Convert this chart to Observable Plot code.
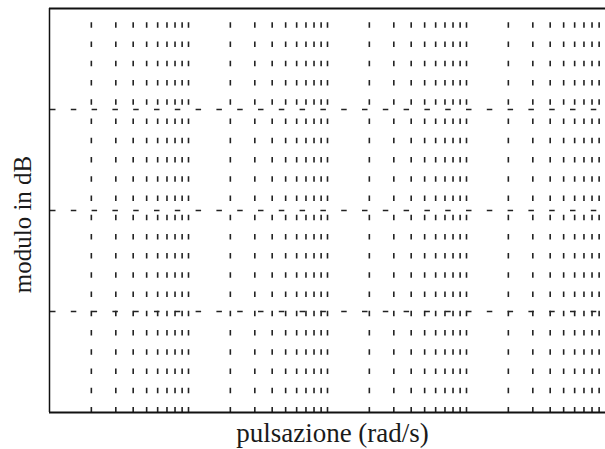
<!DOCTYPE html>
<html>
<head>
<meta charset="utf-8">
<script src="https://cdn.jsdelivr.net/npm/d3@7"></script>
<script src="https://cdn.jsdelivr.net/npm/@observablehq/plot@0.6"></script>
<style>
  body { margin: 0; background: #fff; }
</style>
</head>
<body>
<div id="chart"></div>
<script>
// Semilog Bode-paper grid: frequency on a log axis, magnitude in dB.
const xDomain = [0.5, 5000];
const decades = [1, 10, 100, 1000];
const steps = [1, 1.5, 2, 2.5, 3, 3.5, 4, 4.5, 5];
const yDomain = [-80, 0];
const yGrid = [-60, -40, -20];
const xLabel = "pulsazione (rad/s)";
const yLabel = "modulo in dB";

// Vertical grid lines at each step of every decade inside the domain
const xGrid = decades.flatMap(d => steps.map(s => d * s)).filter(v => v < xDomain[1]);

const plot = Plot.plot({
  width: 605,
  height: 449,
  marginLeft: 49,
  marginRight: 0,
  marginTop: 8,
  marginBottom: 37,
  x: {type: "log", domain: xDomain, axis: null},
  y: {domain: yDomain, axis: null},
  style: {background: "#fff", fontFamily: "'Liberation Serif', 'Times New Roman', serif"},
  marks: [
    Plot.ruleX(xGrid, {stroke: "#222", strokeWidth: 1.6, strokeDasharray: "5.5,13.74", strokeDashoffset: 5}),
    Plot.ruleY(yGrid, {stroke: "#222", strokeWidth: 1.5, strokeDasharray: "5.5,15.3", strokeDashoffset: 19.8}),
    Plot.ruleX([xDomain[0]], {stroke: "#111", strokeWidth: 1.5}),
    Plot.ruleY([yDomain[1]], {stroke: "#111", strokeWidth: 2}),
    Plot.ruleY([yDomain[0]], {stroke: "#111", strokeWidth: 2}),
    Plot.text([xLabel], {frameAnchor: "bottom", textAnchor: "middle", dx: 5, dy: 21, lineAnchor: "middle", fontSize: 27, fill: "#1a1a1a"}),
    Plot.text([yLabel], {frameAnchor: "left", textAnchor: "middle", dx: -27, dy: 14, rotate: -90, lineAnchor: "middle", fontSize: 25, fill: "#1a1a1a"})
  ]
});

document.getElementById("chart").appendChild(plot);
</script>
</body>
</html>
